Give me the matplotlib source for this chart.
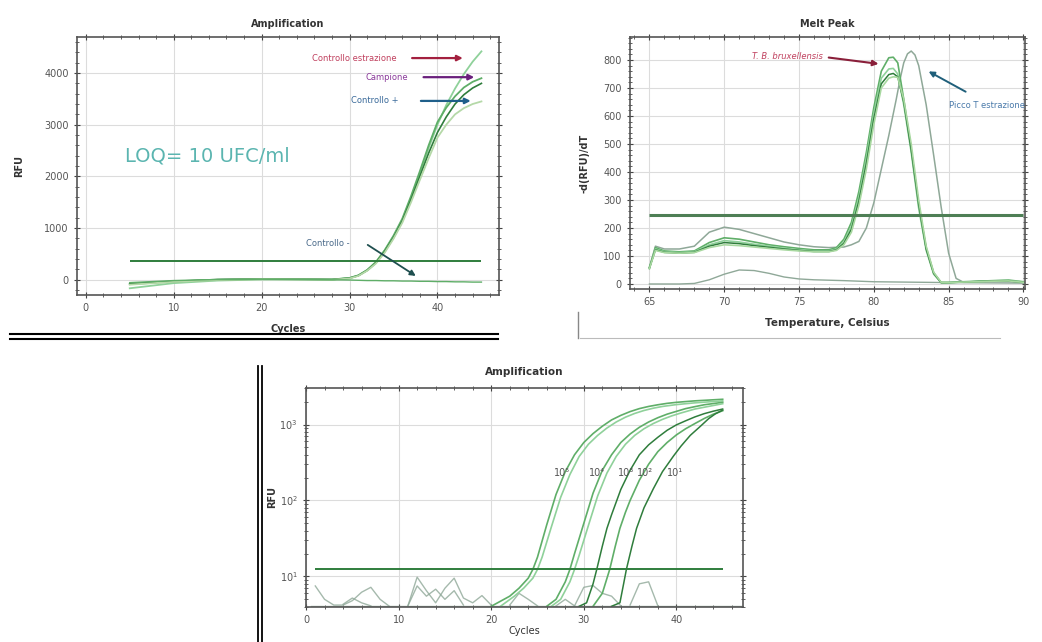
import matplotlib
matplotlib.use('Agg')
import matplotlib.pyplot as plt
from matplotlib.lines import Line2D
from matplotlib.ticker import AutoMinorLocator, LogLocator, NullFormatter

plt.rcParams['font.family'] = ['DejaVu Sans']

# ---------------- panel 1: amplification (linear) ----------------
cyc = [5, 10, 15, 20, 25, 28, 30, 31, 32, 33, 34, 35, 36, 37, 38, 39, 40, 41, 42, 43, 44, 45]
amp_estrazione = [-170, -70, -20, 0, 0, 0, 30, 80, 180, 330, 560, 830, 1150, 1580, 2050, 2550, 3000, 3380, 3700, 3980, 4220, 4420]
amp_campione = [-90, -40, -5, 10, 5, 0, 30, 80, 185, 340, 570, 850, 1180, 1620, 2100, 2600, 3050, 3330, 3550, 3720, 3830, 3900]
amp_pos = [-80, -35, 0, 10, 5, 0, 25, 75, 175, 320, 540, 810, 1130, 1550, 2000, 2450, 2850, 3150, 3400, 3580, 3710, 3800]
amp_pos2 = [-100, -45, -10, 5, 0, -5, 20, 70, 170, 310, 520, 790, 1100, 1500, 1930, 2350, 2750, 3000, 3200, 3320, 3400, 3450]
amp_neg = [-60, -20, 0, 5, 0, -5, -10, -15, -20, -20, -25, -25, -30, -30, -35, -35, -40, -40, -45, -45, -50, -50]
thr1 = 360

# ---------------- panel 2: melt peak ----------------
temp = [65, 65.4, 66, 67, 68, 69, 70, 71, 72, 73, 74, 75, 76, 77, 77.5, 78, 78.5, 79, 79.5, 80,
        80.5, 81, 81.3, 81.6, 82, 82.5, 83, 83.5, 84, 84.5, 85, 86, 87, 88, 89, 90]
melt_g1 = [55, 130, 118, 115, 118, 148, 165, 160, 150, 140, 133, 127, 122, 122, 130, 160, 220, 330, 470, 630,
           760, 808, 810, 790, 660, 480, 280, 130, 40, 5, 5, 8, 10, 12, 14, 8]
melt_g2 = [60, 125, 115, 112, 115, 140, 155, 150, 142, 135, 128, 122, 118, 118, 125, 150, 205, 310, 450, 610,
           735, 768, 770, 750, 640, 470, 270, 120, 35, 5, 5, 7, 9, 11, 12, 7]
melt_g3 = [58, 122, 113, 110, 113, 135, 148, 144, 137, 131, 125, 120, 116, 116, 122, 145, 195, 295, 430, 590,
           715, 748, 752, 740, 650, 480, 285, 125, 38, 5, 5, 7, 9, 10, 11, 6]
melt_g4 = [56, 120, 112, 110, 112, 130, 140, 137, 132, 127, 122, 118, 115, 115, 120, 140, 185, 280, 410, 570,
           700, 735, 740, 738, 660, 500, 300, 135, 42, 6, 5, 7, 8, 10, 11, 6]
temp_ext = [65, 65.4, 66, 67, 68, 69, 70, 71, 72, 73, 74, 75, 76, 77, 78, 78.5, 79, 79.5, 80, 80.5,
            81, 81.5, 81.75, 82, 82.25, 82.5, 82.75, 83, 83.5, 84, 84.5, 85, 85.5, 86, 87, 88, 89, 90]
melt_ext = [60, 135, 125, 125, 135, 185, 203, 195, 180, 165, 150, 140, 133, 130, 132, 140, 152, 200, 290, 410,
            530, 660, 730, 790, 822, 832, 818, 780, 640, 460, 275, 110, 20, 6, 8, 8, 8, 5]
temp_neg = [65, 66, 67, 68, 69, 70, 71, 72, 73, 74, 75, 76, 78, 80, 85, 90]
melt_neg = [0, 0, 0, 2, 15, 35, 50, 48, 38, 25, 18, 15, 12, 8, 5, 3]
thr2 = 245

# ---------------- panel 3: amplification (log) ----------------
c5 = [20, 22, 23, 24, 24.5, 25, 26, 27, 28, 29, 30, 31, 32, 33, 34, 35, 36, 37, 38, 39, 40, 42, 45]
r5 = [4.05, 5.5, 7, 9.5, 12.4, 18, 48, 120, 240, 400, 580, 760, 950, 1150, 1320, 1480, 1620, 1730, 1820, 1900, 1960, 2050, 2150]
c5b = [21, 22.5, 23.5, 24.5, 25, 25.5, 26.5, 27.5, 28.5, 29.5, 30.5, 31.5, 32.5, 33.5, 34.5, 35.5, 36.5, 37.5, 38.5, 40, 42, 45]
r5b = [4.05, 5.5, 7, 9.5, 12.4, 18, 45, 110, 220, 380, 550, 720, 900, 1080, 1250, 1400, 1530, 1640, 1730, 1830, 1930, 2050]
c4 = [26, 27, 28, 28.5, 29, 30, 31, 32, 33, 34, 35, 36, 37, 38, 39, 40, 41, 42, 43, 45]
r4 = [4.05, 5, 8.5, 12.4, 20, 50, 125, 250, 400, 580, 750, 920, 1080, 1230, 1370, 1490, 1620, 1720, 1820, 1960]
c4b = [26.5, 27.5, 28.5, 29, 29.5, 30.5, 31.5, 32.5, 33.5, 34.5, 35.5, 36.5, 37.5, 38.5, 39.5, 40.5, 42, 45]
r4b = [4.05, 5, 8.5, 12.4, 19, 47, 115, 230, 380, 550, 720, 880, 1030, 1170, 1300, 1420, 1600, 1880]
c3 = [29.5, 30.3, 31, 31.4, 32, 32.5, 33, 34, 35, 36, 37, 38, 39, 40, 41, 42, 43, 44, 45]
r3 = [4.05, 4.5, 8, 12.4, 25, 43, 65, 140, 250, 400, 540, 680, 840, 990, 1120, 1260, 1390, 1500, 1600]
c2 = [31, 32, 32.8, 33.4, 33.9, 34.5, 35, 36, 37, 38, 39, 40, 41, 42, 43, 44, 45]
r2 = [4.05, 6, 12.4, 25, 43, 70, 100, 185, 300, 440, 580, 730, 880, 1030, 1200, 1370, 1520]
c1 = [33, 33.9, 34.3, 34.6, 35.2, 35.7, 36.5, 37.5, 38.5, 39.7, 40.5, 41.5, 42.6, 43.5, 44.2, 45]
r1 = [4.05, 4.5, 8, 12.4, 25, 43, 80, 142, 240, 387, 520, 720, 950, 1200, 1380, 1550]
noise_x = [[1, 2, 3, 4, 5, 6, 7, 8, 9], [4, 5, 6, 7], [11, 12, 13, 14, 15, 16, 17, 18, 19, 20],
           [11, 12, 13, 14, 15, 16, 17], [22, 23, 24, 25], [29, 30, 31, 32, 33, 34],
           [35, 36, 37, 38], [27, 28, 29], [0.5, 47]]
noise_y = [[7.5, 5.0, 4.2, 4.2, 4.8, 6.2, 7.2, 5.0, 4.05], [4.3, 5.2, 4.5, 4.1],
           [4.1, 9.8, 6.5, 4.5, 7.0, 9.5, 5.2, 4.5, 5.6, 4.2], [4.1, 7.5, 5.5, 6.8, 5.0, 6.5, 4.2],
           [4.2, 6.0, 5.0, 4.1], [4.1, 7.2, 7.6, 6.0, 5.5, 4.1], [4.2, 8.0, 8.5, 4.1], [4.1, 5.0, 4.1],
           [4.08, 4.08]]
conc_labels = ['10⁵', '10⁴', '10³', '10²', '10¹']
conc_x = [27.6, 31.4, 34.6, 36.6, 39.9]
thr3 = 12.4

light = '#8fd19a'
mid = '#5fae68'
dark = '#2f7d3c'
greyg = '#8fa898'


def style(ax):
    ax.grid(True, color='#dcdcdc', lw=0.8)
    ax.xaxis.set_minor_locator(AutoMinorLocator(5))
    ax.tick_params(which='both', direction='inout', top=True, right=True,
                   labelsize=7, colors='#444444', labelcolor='#555555')
    ax.tick_params(which='major', length=5)
    ax.tick_params(which='minor', length=3)
    for s in ax.spines.values():
        s.set_color('#555555')
        s.set_linewidth(1.2)


fig = plt.figure(figsize=(10.42, 6.42), dpi=100)

# panel 1
ax1 = fig.add_axes([0.0739, 0.5405, 0.405, 0.402])
ax1.plot(cyc, amp_estrazione, color=light, lw=1.3)
ax1.plot(cyc, amp_campione, color=mid, lw=1.3)
ax1.plot(cyc, amp_pos, color=dark, lw=1.2)
ax1.plot(cyc, amp_pos2, color='#b5d9a8', lw=1.3)
ax1.plot(cyc, amp_neg, color=mid, lw=1.0)
ax1.hlines(thr1, 5, 45, color=dark, lw=1.4)
ax1.set_xlim(-1, 47)
ax1.set_ylim(-300, 4700)
ax1.set_xticks([0, 10, 20, 30, 40])
ax1.set_yticks([0, 1000, 2000, 3000, 4000])
ax1.yaxis.set_minor_locator(AutoMinorLocator(5))
style(ax1)
ax1.set_title('Amplification', fontsize=7, fontweight='bold', color='#333333', pad=7)
ax1.set_xlabel('Cycles', fontsize=7, fontweight='bold', color='#333333', labelpad=8)
ax1.set_ylabel('RFU', fontsize=7, fontweight='bold', color='#333333', labelpad=14)
ax1.text(4.5, 2400, 'LOQ= 10 UFC/ml', fontsize=14, color='#5bb5b0', va='center')
ax1.annotate('', xy=(43.2, 4290), xytext=(36.8, 4290),
             arrowprops=dict(arrowstyle='-|>', color='#a3203f', lw=1.6, mutation_scale=8))
ax1.text(35.4, 4290, 'Controllo estrazione', fontsize=6, color='#c0405e', ha='right', va='center')
ax1.annotate('', xy=(44.5, 3920), xytext=(38.1, 3920),
             arrowprops=dict(arrowstyle='-|>', color='#6a1f7c', lw=1.6, mutation_scale=8))
ax1.text(36.7, 3920, 'Campione', fontsize=6, color='#8a3a9a', ha='right', va='center')
ax1.annotate('', xy=(44.1, 3460), xytext=(37.8, 3460),
             arrowprops=dict(arrowstyle='-|>', color='#1f5f8a', lw=1.6, mutation_scale=8))
ax1.text(35.6, 3460, 'Controllo +', fontsize=6, color='#3a6a9a', ha='right', va='center')
ax1.annotate('', xy=(37.8, 40), xytext=(31.8, 700),
             arrowprops=dict(arrowstyle='-|>', color='#1f4f4f', lw=1.3, mutation_scale=8))
ax1.text(30.0, 700, 'Controllo -', fontsize=6, color='#4a6a8a', ha='right', va='center')

# panel 2
ax2 = fig.add_axes([0.6046, 0.5498, 0.379, 0.3925])
ax2.plot(temp_neg, melt_neg, color=greyg, lw=1.0)
ax2.plot(temp_ext, melt_ext, color=greyg, lw=1.1)
ax2.plot(temp, melt_g1, color=mid, lw=1.2)
ax2.plot(temp, melt_g2, color=light, lw=1.2)
ax2.plot(temp, melt_g3, color=dark, lw=1.1)
ax2.plot(temp, melt_g4, color='#a8d8a0', lw=1.2)
ax2.hlines(thr2, 65, 90, color='#4e7f55', lw=2.2)
ax2.set_xlim(63.7, 90.1)
ax2.set_ylim(-18, 882)
ax2.set_xticks([65, 70, 75, 80, 85, 90])
ax2.set_yticks(range(0, 801, 100))
ax2.yaxis.set_minor_locator(AutoMinorLocator(5))
style(ax2)
ax2.set_title('Melt Peak', fontsize=7, fontweight='bold', color='#333333', pad=7)
ax2.set_xlabel('Temperature, Celsius', fontsize=7.5, fontweight='bold', color='#333333', labelpad=8)
ax2.set_ylabel('-d(RFU)/dT', fontsize=7, fontweight='bold', color='#333333', labelpad=10)
ax2.annotate('', xy=(80.5, 785), xytext=(76.8, 810),
             arrowprops=dict(arrowstyle='-|>', color='#8a1f3a', lw=1.5, mutation_scale=8))
ax2.text(76.6, 812, 'T. B. bruxellensis', fontsize=6, color='#c0405e', ha='right', va='center', style='italic')
ax2.annotate('', xy=(83.5, 764), xytext=(86.3, 682),
             arrowprops=dict(arrowstyle='-|>', color='#1f5f7a', lw=1.4, mutation_scale=8))
ax2.text(85.0, 639, 'Picco T estrazione', fontsize=6, color='#4a7aaa', ha='left', va='center')

# panel 3
ax3 = fig.add_axes([0.2937, 0.055, 0.4194, 0.3407])
for nx, ny in zip(noise_x, noise_y):
    ax3.plot(nx, ny, color=greyg, lw=1.0, alpha=0.8)
ax3.plot(c5, r5, color=mid, lw=1.2)
ax3.plot(c5b, r5b, color=light, lw=1.2)
ax3.plot(c4, r4, color=mid, lw=1.2)
ax3.plot(c4b, r4b, color=light, lw=1.2)
ax3.plot(c3, r3, color=dark, lw=1.1)
ax3.plot(c2, r2, color=mid, lw=1.2)
ax3.plot(c1, r1, color=dark, lw=1.1)
ax3.hlines(thr3, 1, 45, color=dark, lw=1.4)
ax3.set_yscale('log')
ax3.set_xlim(0, 47.2)
ax3.set_ylim(4.0, 3030)
ax3.set_xticks([0, 10, 20, 30, 40])
ax3.yaxis.set_major_locator(LogLocator(base=10, numticks=5))
ax3.yaxis.set_minor_locator(LogLocator(base=10, subs=[2, 3, 4, 5, 6, 7, 8, 9], numticks=10))
ax3.yaxis.set_minor_formatter(NullFormatter())
style(ax3)
ax3.set_title('Amplification', fontsize=7.5, fontweight='bold', color='#333333', pad=9)
ax3.set_xlabel('Cycles', fontsize=7, color='#333333', labelpad=1)
ax3.set_ylabel('RFU', fontsize=7, fontweight='bold', color='#333333', labelpad=2)
for lab, xp in zip(conc_labels, conc_x):
    ax3.text(xp, 230, lab, fontsize=7, color='#555555', ha='center', va='center')

# border lines around the panels
fig.add_artist(Line2D([10 / 1042, 498 / 1042], [1 - 334 / 642, 1 - 334 / 642], color='black', lw=1.5))
fig.add_artist(Line2D([10 / 1042, 498 / 1042], [1 - 339 / 642, 1 - 339 / 642], color='black', lw=1.5))
fig.add_artist(Line2D([258 / 1042, 258 / 1042], [0, 1 - 366 / 642], color='black', lw=1.3))
fig.add_artist(Line2D([262 / 1042, 262 / 1042], [0, 1 - 366 / 642], color='black', lw=1.3))
fig.add_artist(Line2D([578 / 1042, 578 / 1042], [1 - 338 / 642, 1 - 312 / 642], color='#888888', lw=1.0))
fig.add_artist(Line2D([580 / 1042, 1000 / 1042], [1 - 338 / 642, 1 - 338 / 642], color='#bbbbbb', lw=0.8))

fig.savefig('out.png', dpi=100)
